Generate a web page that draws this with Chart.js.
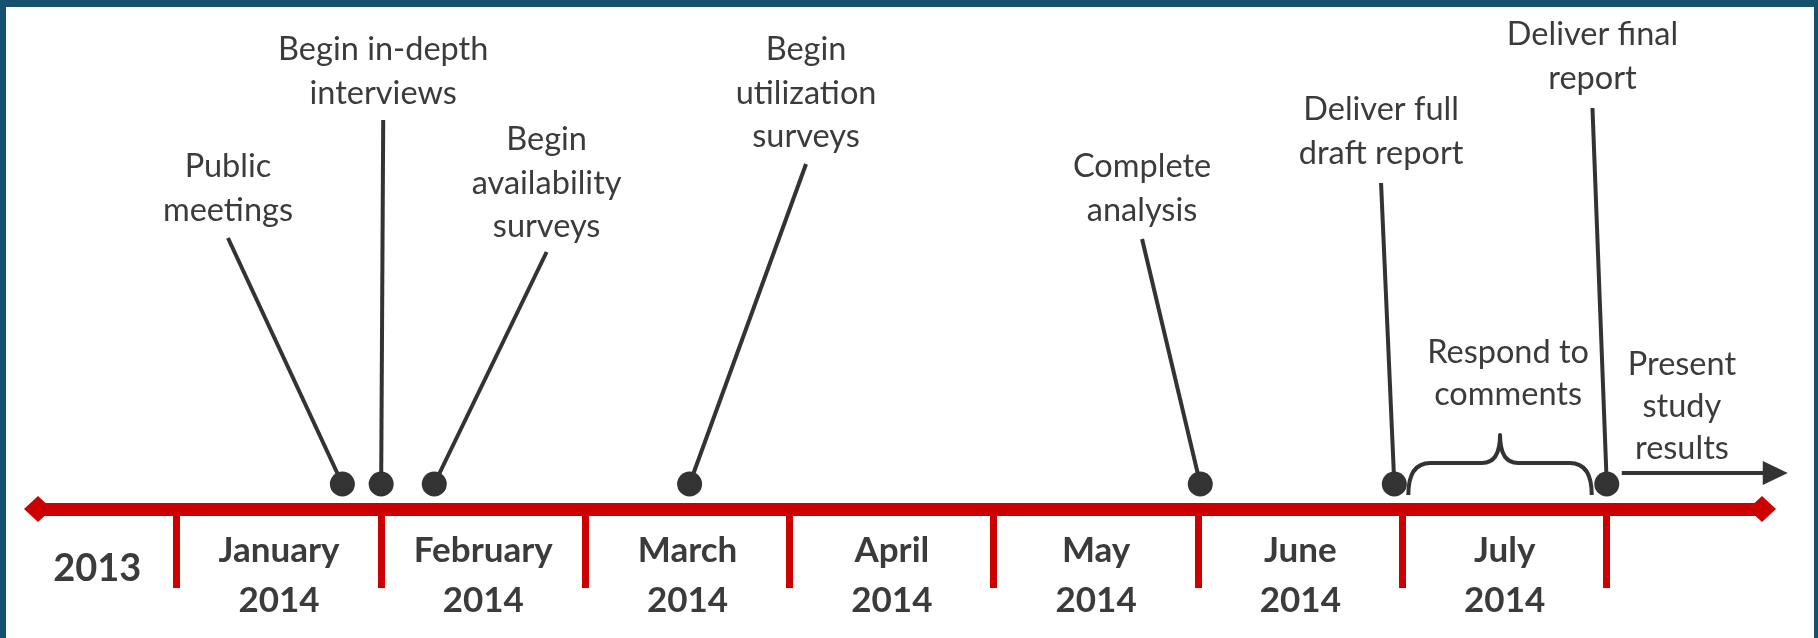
<!DOCTYPE html>
<html>
<head>
<meta charset="utf-8">
<script src="https://cdn.jsdelivr.net/npm/chart.js@4.4.1/dist/chart.umd.min.js"></script>
<style>
html,body{margin:0;padding:0;background:#fff;}
#wrap{position:relative;width:1818px;height:638px;overflow:hidden;}
#frame{position:absolute;left:0;top:0;width:1818px;height:638px;box-sizing:border-box;border:solid #15506e;border-width:7px 4px 0 6px;pointer-events:none;}
</style>
</head>
<body>
<div id="wrap"><canvas id="ch" width="1818" height="638"></canvas><div id="frame"></div></div>
<script>
/* ---------- data ---------- */
const periodLabels=['2013',['January','2014'],['February','2014'],['March','2014'],['April','2014'],['May','2014'],['June','2014'],['July','2014']];
const periodMid=[-0.39,0.5,1.5,2.5,3.5,4.5,5.5,6.5];      // months from Jan 1 2014
const monthStarts=[0,1,2,3,4,5,6,7];
const eventNames=[['Public','meetings'],['Begin in-depth','interviews'],['Begin','availability','surveys'],['Begin','utilization','surveys'],['Complete','analysis'],['Deliver full','draft report'],['Deliver final','report']];
const eventDates=[0.81,1.0,1.26,2.51,5.01,5.96,7.0];
const phaseNames=[['Respond to','comments'],['Present','study','results']];

/* ---------- layout (x in months, y in px above the axis line) ---------- */
const X_MIN=-0.68,X_MAX=7.76;
const DOT_Y=25;
const labelX=[0.25,1.01,1.81,3.08,4.725,5.895,6.93];
const leaderTop=[271,389,257,345,270,326,401];
const labelBase=[332,449,359,449,332,389,464];
const phaseX=[6.517,7.368];
const phaseBase=[146,134];

const RED='#cc0000',INK='#333333',TXT='#3b3b3b';
const FONT='Lato, "Open Sans", sans-serif';

/* ---------- decorations: end diamonds, labels, brace, arrow ---------- */
const timelineDecor={
  id:'timelineDecor',
  afterDatasetsDraw(chart){
    const {ctx,chartArea:a,scales:{x,y}}=chart;
    const ay=y.getPixelForValue(0);
    ctx.save();
    ctx.fillStyle=RED;
    [a.left,a.right].forEach(cx=>{
      ctx.beginPath();ctx.moveTo(cx-14,ay);ctx.lineTo(cx,ay-13);ctx.lineTo(cx+14,ay);ctx.lineTo(cx,ay+13);ctx.closePath();ctx.fill();
    });
    // event labels
    ctx.fillStyle=TXT;ctx.font='32.5px '+FONT;ctx.textAlign='center';ctx.textBaseline='alphabetic';
    eventNames.forEach((lines,i)=>{
      const cx=x.getPixelForValue(labelX[i]),by=y.getPixelForValue(labelBase[i]);
      lines.forEach((t,k)=>ctx.fillText(t,cx,by+k*43.5));
    });
    phaseNames.forEach((lines,i)=>{
      const cx=x.getPixelForValue(phaseX[i]),by=y.getPixelForValue(phaseBase[i]);
      lines.forEach((t,k)=>ctx.fillText(t,cx,by+k*42));
    });
    // brace between draft and final report
    ctx.strokeStyle=INK;ctx.lineWidth=4;ctx.lineJoin='round';
    const x0=x.getPixelForValue(eventDates[5])+14,x1=x.getPixelForValue(eventDates[6])-15,xp=(x0+x1)/2;
    const yb=y.getPixelForValue(14),ym=y.getPixelForValue(46),yp=y.getPixelForValue(74);
    ctx.beginPath();
    ctx.moveTo(x0,yb);ctx.quadraticCurveTo(x0,ym,x0+22,ym);ctx.lineTo(xp-18,ym);ctx.quadraticCurveTo(xp,ym,xp,yp);
    ctx.quadraticCurveTo(xp,ym,xp+18,ym);ctx.lineTo(x1-22,ym);ctx.quadraticCurveTo(x1,ym,x1,yb);
    ctx.stroke();
    // arrow toward presentation
    const ax0=x.getPixelForValue(eventDates[6])+15,ax1=ax0+166,ayA=y.getPixelForValue(36);
    ctx.beginPath();ctx.moveTo(ax0,ayA);ctx.lineTo(ax1-20,ayA);ctx.stroke();
    ctx.fillStyle=INK;ctx.beginPath();ctx.moveTo(ax1,ayA);ctx.lineTo(ax1-25,ayA-12);ctx.lineTo(ax1-25,ayA+12);ctx.closePath();ctx.fill();
    ctx.restore();
  }
};

const leaderSets=eventDates.map((d,i)=>({
  data:[{x:d,y:DOT_Y},{x:labelX[i],y:leaderTop[i]}],
  showLine:true,borderColor:INK,borderWidth:4,pointRadius:0,order:1
}));

new Chart(document.getElementById('ch'),{
  type:'scatter',
  data:{datasets:[
    {data:eventDates.map(d=>({x:d,y:DOT_Y})),backgroundColor:INK,borderWidth:0,pointRadius:12.5,order:0},
    ...leaderSets
  ]},
  options:{
    responsive:false,animation:false,
    layout:{autoPadding:false,padding:{left:38,right:56,top:0,bottom:0}},
    plugins:{legend:{display:false},tooltip:{enabled:false}},
    scales:{
      x:{type:'linear',axis:'x',min:X_MIN,max:X_MAX,position:{y:0},
        afterBuildTicks:s=>{s.ticks=monthStarts.map(v=>({value:v}));},
        border:{display:true,color:RED,width:13},
        grid:{display:true,drawOnChartArea:false,drawTicks:true,tickLength:72,tickWidth:7,tickColor:RED},
        ticks:{display:false}},
      xm:{type:'linear',axis:'x',min:X_MIN,max:X_MAX,position:{y:0},
        afterBuildTicks:s=>{s.ticks=periodMid.map(v=>({value:v}));},
        border:{display:false},
        grid:{display:false,drawTicks:false},
        ticks:{padding:17,color:TXT,maxRotation:0,autoSkip:false,
          font:c=>c.index===0?{family:FONT,size:38,weight:'bold',lineHeight:2.26}:{family:FONT,size:35,weight:'bold',lineHeight:1.43},
          callback:(v,i)=>periodLabels[i]}},
      y:{type:'linear',min:-129,max:509,display:false}
    }
  },
  plugins:[timelineDecor]
});
</script>
</body>
</html>
